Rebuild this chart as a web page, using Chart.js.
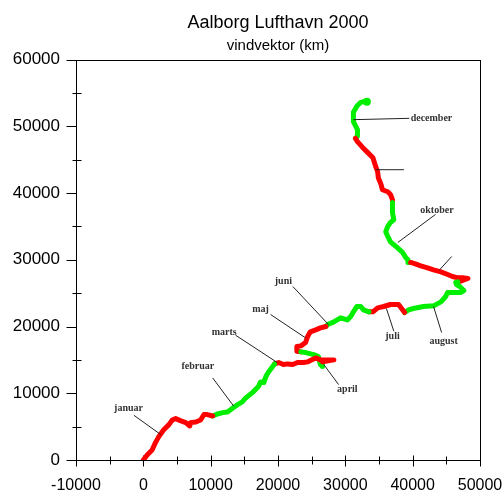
<!DOCTYPE html>
<html>
<head>
<meta charset="utf-8">
<title>Aalborg Lufthavn 2000</title>
<script src="https://cdn.jsdelivr.net/npm/chart.js@4.4.0/dist/chart.umd.min.js"></script>
<style>
html, body { margin: 0; padding: 0; background: #fff; }
#wrap { width: 503px; height: 493px; }
</style>
</head>
<body>
<div id="wrap"><canvas id="myChart"></canvas></div>
<script>
// cumulative wind vector, km east (x) / km north (y), one path per month
var months = ['januar', 'februar', 'marts', 'april', 'maj', 'juni', 'juli', 'august', 'september', 'oktober', 'november', 'december'];
var monthColors = ['#ff0000', '#00ee00'];

var janPath = [[0,0],[600,800],[1300,1500],[1800,2600],[2300,3500],[3000,4500],[3800,5300],[4300,6000],[4800,6200],[5500,5900],[6300,5600],[6900,5100],[7000,5600],[7800,5700],[8500,6000],[9000,6800],[9500,6800],[10300,6600]];
var febPath = [[10300,6600],[11000,6900],[11800,7100],[12500,7200],[13300,7800],[14000,8300],[14700,8700],[15200,9300],[16200,10100],[17100,11000],[17400,11700],[17900,11600],[18200,12500],[18600,13200],[19200,14000],[19500,14400]];
var marPath = [[19500,14400],[20100,14600],[20800,14300],[21400,14400],[22200,14300],[22900,14600],[23800,14600],[24400,14700],[24800,14900],[25600,15300],[26300,15000],[27800,15000],[28300,15000],[26600,14700]];
var aprPath = [[26600,14700],[26600,14000],[26300,14300],[26000,15500],[25300,15800],[24100,16100],[23400,16200]];
var majPath = [[23400,16200],[22800,16300],[22800,17000],[23400,17100],[24100,17600],[24400,18500],[24800,19200],[25600,19500],[26300,19800],[27100,20000]];
var junPath = [[27100,20000],[27400,20300],[28300,20700],[29300,21300],[30300,21000],[30800,21500],[31200,22200],[31700,23000],[32300,23000],[32700,22500],[33500,22200]];
var julPath = [[33500,22200],[34100,22200],[34800,22800],[35700,23000],[36700,23300],[37900,23300],[38500,22500],[38800,22100]];
var augPath = [[38800,22100],[39400,22500],[40100,22700],[41600,23000],[43100,23100],[44200,23700],[44900,24500],[45200,25100],[46100,25100],[47100,25100],[47600,25400],[47000,26000],[46500,26300],[46400,26600],[46700,26700]];
var sepPath = [[46700,26700],[47400,26900],[48200,27200],[47400,27300],[46700,27300],[45900,27500],[45200,27800],[44200,28200],[43100,28500],[42200,28800],[41200,29100],[40400,29400],[39700,29600]];
var oktPath = [[39700,29600],[39300,29600],[39300,30000],[39000,30300],[38500,31100],[37500,32000],[36700,32700],[36300,33500],[36000,34200],[36300,35000],[36700,35600],[37200,36000],[37000,37100],[37000,38000],[37000,38600]];
var novPath = [[37000,38600],[37000,39000],[36700,39800],[36300,40200],[35500,40500],[35300,41300],[34900,42300],[34800,43200],[34500,44000],[34100,45300],[33300,46100],[32600,46800],[31800,47700],[31500,48200]];
var decPath = [[31500,48200],[31800,48500],[31800,49500],[31200,50700],[31200,52100],[31700,53000],[32300,53600],[32700,53700],[33200,53700]];
var monthPaths = [janPath, febPath, marPath, aprPath, majPath, junPath, julPath, augPath, sepPath, oktPath, novPath, decPath];

var xTicks = [-10000, 0, 10000, 20000, 30000, 40000, 50000];
var yTicks = [0, 10000, 20000, 30000, 40000, 50000, 60000];
var minorStep = 5000;

// month labels with leader lines (data coordinates); empty text = leader line only
var noteText = ['januar', 'februar', 'marts', 'april', 'maj', 'juni', 'juli', 'august', '', 'oktober', '', 'december'];
var noteX = [-2200, 8100, 12000, 30300, 17400, 20800, 37000, 44600, 0, 43600, 0, 39700];
var noteY = [7700, 14000, 19100, 10600, 22500, 26700, 18500, 17700, 0, 37400, 0, 51200];
var leadX1 = [-1400, 10300, 13700, 26800, 18900, 22200, 36100, 43100, 44000, 43400, 34500, 31200];
var leadY1 = [6700, 12300, 18700, 14300, 21800, 26000, 22700, 23000, 28500, 36800, 43500, 51000];
var leadX2 = [2600, 13400, 19900, 29000, 24100, 27500, 37200, 44300, 45800, 37800, 38700, 39500];
var leadY2 = [3800, 8100, 14600, 11300, 18300, 20300, 19300, 19100, 30500, 32600, 43500, 51200];

var datasets = [];
for (var i = 0; i < monthPaths.length; i++) {
    var pts = monthPaths[i].map(function(p) { return {x: p[0], y: p[1]}; });
    datasets.push({
        label: months[i],
        data: pts,
        showLine: true,
        borderColor: monthColors[i % 2],
        backgroundColor: monthColors[i % 2],
        borderWidth: 5,
        borderJoinStyle: 'round',
        borderCapStyle: 'round',
        tension: 0,
        pointRadius: i === 11 ? function(ctx) { return ctx.dataIndex === decPath.length - 1 ? 4 : 0; } : 0,
        pointHoverRadius: 0,
        pointBorderWidth: 0
    });
}

var boxAndTicks = {
    id: 'boxAndTicks',
    beforeDatasetsDraw: function(chart) {
        var ctx = chart.ctx, a = chart.chartArea, xs = chart.scales.x, ys = chart.scales.y;
        var l = Math.round(a.left) + 0.5, r = Math.round(a.right) + 0.5;
        var t = Math.round(a.top) + 0.5, b = Math.round(a.bottom) + 0.5;
        ctx.save();
        ctx.strokeStyle = '#000';
        ctx.lineWidth = 1;
        ctx.strokeRect(l, t, r - l, b - t);
        ctx.beginPath();
        for (var v = xs.min; v <= xs.max; v += minorStep) {
            var px = Math.round(xs.getPixelForValue(v)) + 0.5;
            if (xTicks.indexOf(v) >= 0) { ctx.moveTo(px, b - 5); ctx.lineTo(px, b + 6); }
            else { ctx.moveTo(px, b - 4); ctx.lineTo(px, b + 4); }
        }
        for (v = ys.min; v <= ys.max; v += minorStep) {
            var py = Math.round(ys.getPixelForValue(v)) + 0.5;
            if (yTicks.indexOf(v) >= 0) { ctx.moveTo(l - 10, py); ctx.lineTo(l, py); }
            else { ctx.moveTo(l - 4, py); ctx.lineTo(l + 5, py); }
        }
        ctx.stroke();
        ctx.restore();
    },
    afterDatasetsDraw: function(chart) {
        var ctx = chart.ctx, xs = chart.scales.x, ys = chart.scales.y;
        ctx.save();
        ctx.strokeStyle = '#222';
        ctx.lineWidth = 1;
        ctx.beginPath();
        for (var i = 0; i < leadX1.length; i++) {
            ctx.moveTo(xs.getPixelForValue(leadX1[i]), ys.getPixelForValue(leadY1[i]));
            ctx.lineTo(xs.getPixelForValue(leadX2[i]), ys.getPixelForValue(leadY2[i]));
        }
        ctx.stroke();
        ctx.fillStyle = '#333';
        ctx.font = 'bold 10px "Liberation Serif", "Times New Roman", serif';
        ctx.textBaseline = 'middle';
        for (i = 0; i < noteText.length; i++) {
            if (!noteText[i]) continue;
            ctx.textAlign = noteText[i] === 'december' ? 'left' : 'center';
            ctx.fillText(noteText[i], xs.getPixelForValue(noteX[i]), ys.getPixelForValue(noteY[i]));
        }
        ctx.restore();
    }
};

var ctx = document.getElementById('myChart').getContext('2d');
var chart = new Chart(ctx, {
    type: 'scatter',
    data: { datasets: datasets },
    options: {
        responsive: true,
        maintainAspectRatio: false,
        animation: false,
        events: [],
        layout: { padding: { left: 0, right: 23, top: 0, bottom: 0 } },
        plugins: {
            legend: { display: false },
            tooltip: { enabled: false },
            title: {
                display: true,
                fullSize: false,
                text: 'Aalborg Lufthavn 2000',
                color: '#000',
                font: { family: '"Liberation Sans", Arial, sans-serif', size: 18, weight: 'normal' },
                padding: { top: 12, bottom: 1 }
            },
            subtitle: {
                display: true,
                fullSize: false,
                text: 'vindvektor (km)',
                color: '#000',
                font: { family: '"Liberation Sans", Arial, sans-serif', size: 15, weight: 'normal' },
                padding: { top: 2, bottom: 5 }
            }
        },
        scales: {
            x: {
                type: 'linear',
                min: -10000,
                max: 50000,
                afterBuildTicks: function(scale) { scale.ticks = xTicks.map(function(v) { return {value: v}; }); },
                afterFit: function(scale) {
                    scale.height = 33;
                    scale.paddingLeft = 0;
                    scale.paddingRight = 0;
                },
                grid: { display: false, drawTicks: false },
                border: { display: false },
                ticks: {
                    color: '#000',
                    padding: 16,
                    maxRotation: 0,
                    autoSkip: false,
                    font: { family: '"Liberation Sans", Arial, sans-serif', size: 16 },
                    callback: function(v) { return String(v); }
                }
            },
            y: {
                type: 'linear',
                min: 0,
                max: 60000,
                afterBuildTicks: function(scale) { scale.ticks = yTicks.map(function(v) { return {value: v}; }); },
                afterFit: function(scale) { scale.width = 76; },
                grid: { display: false, drawTicks: false },
                border: { display: false },
                ticks: {
                    color: '#000',
                    padding: 16,
                    autoSkip: false,
                    font: { family: '"Liberation Sans", Arial, sans-serif', size: 17 },
                    callback: function(v) { return String(v); }
                }
            }
        }
    },
    plugins: [boxAndTicks]
});
</script>
</body>
</html>
